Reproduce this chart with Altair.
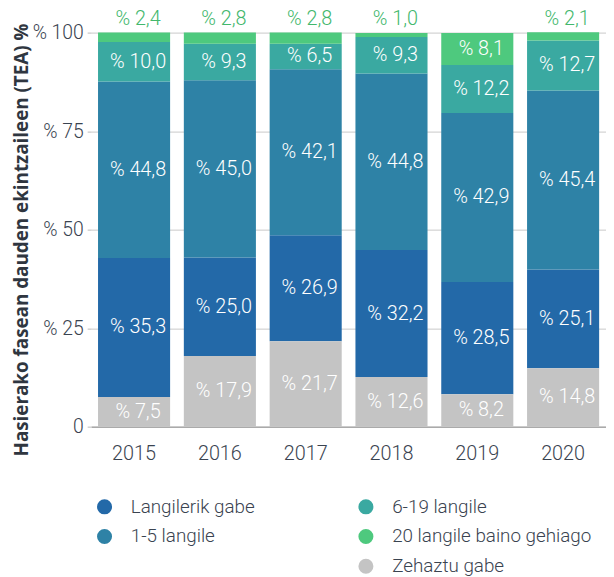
import altair as alt
import pandas as pd

years = ["2015", "2016", "2017", "2018", "2019", "2020"]
groups = ["Zehaztu gabe", "Langilerik gabe", "1-5 langile", "6-19 langile", "20 langile baino gehiago"]
zehaztu = [7.5, 17.9, 21.7, 12.6, 8.2, 14.8]
langilerik = [35.3, 25.0, 26.9, 32.2, 28.5, 25.1]
l1_5 = [44.8, 45.0, 42.1, 44.8, 42.9, 45.4]
l6_19 = [10.0, 9.3, 6.5, 9.3, 12.2, 12.7]
l20 = [2.4, 2.8, 2.8, 1.0, 8.1, 2.1]
series = [zehaztu, langilerik, l1_5, l6_19, l20]

rows = []
for gi, (g, vals) in enumerate(zip(groups, series)):
    for y, v in zip(years, vals):
        rows.append({"year": y, "group": g, "value": v, "ord": gi})
df = pd.DataFrame(rows)

FONT = "Roboto"
TXT = "#3a4350"

x_enc = alt.X("year:N", title=None, scale=alt.Scale(paddingInner=0.16, paddingOuter=0.08),
              axis=alt.Axis(labelFontSize=20, labelColor=TXT, labelFontWeight=300, labelAngle=0,
                            ticks=False, domainColor="#aaaaaa", domainWidth=1.5, labelPadding=17))
y_scale = alt.Scale(domain=[0, 100])
y_axis = alt.Axis(values=[0, 25, 50, 75, 100],
                  labelExpr="datum.value == 0 ? '0' : '% ' + datum.value",
                  labelFontSize=19.5, labelColor=TXT, labelFontWeight=300, labelPadding=4,
                  tickSize=4, tickColor="#bbbbbb", domain=False, gridColor="#c8c8c8",
                  title="Hasierako fasean dauden ekintzaileen (TEA) %", titleFontSize=19,
                  titleFont="Open Sans",
                  titleFontWeight="bold", titleColor="#2f3640", titleX=-70, titleY=209,
                  titleAngle=270, titleAlign="center", titleBaseline="middle")

leg_common = dict(orient="none", title=None, symbolType="circle", symbolSize=230,
                  labelFontSize=19, labelColor=TXT, labelFont=FONT, labelFontWeight=300,
                  labelOffset=17, rowPadding=10, padding=0, symbolStrokeWidth=0, labelLimit=400)

g1 = ["Langilerik gabe", "1-5 langile"]
g2 = ["6-19 langile", "20 langile baino gehiago", "Zehaztu gabe"]

bars1 = alt.Chart().mark_bar().encode(
    x=x_enc,
    y=alt.Y("y0:Q", scale=y_scale, axis=y_axis),
    y2="y1:Q",
    fill=alt.Fill("group:N", scale=alt.Scale(domain=g1, range=["#2369a8", "#2e82a6"]),
                  legend=alt.Legend(legendX=4, legendY=469.5, **leg_common)),
).transform_filter(alt.FieldOneOfPredicate(field="group", oneOf=g1))

bars2 = alt.Chart().mark_bar().encode(
    x=x_enc,
    y=alt.Y("y0:Q", scale=y_scale, axis=y_axis),
    y2="y1:Q",
    color=alt.Color("group:N", scale=alt.Scale(domain=g2, range=["#3aa9a1", "#4ec97e", "#c4c4c4"]),
                    legend=alt.Legend(legendX=268, legendY=469.5, **leg_common)),
).transform_filter(alt.FieldOneOfPredicate(field="group", oneOf=g2))

text_in = alt.Chart().mark_text(color="white", fontSize=20, fontWeight=300, font=FONT,
                                baseline="middle", dx=4).encode(
    x=x_enc,
    y=alt.Y("mid:Q", scale=y_scale),
    text="label:N",
).transform_filter("!(datum.group == '20 langile baino gehiago' && datum.value < 5)")

text_top = alt.Chart().mark_text(color="#42b76c", fontSize=20, fontWeight=300, font=FONT,
                                 baseline="alphabetic", dx=4).encode(
    x=x_enc,
    y=alt.value(-8),
    text="label:N",
).transform_filter("datum.group == '20 langile baino gehiago' && datum.value < 5")

chart = alt.layer(bars1, bars2, text_in, text_top, data=df).transform_calculate(
    label="'% ' + replace(format(datum.value, '.1f'), '.', ',')"
).transform_stack(
    stack="value", groupby=["year"], as_=["y0", "y1"], sort=[alt.SortField("ord", order="ascending")]
).transform_calculate(
    mid="(datum.y0 + datum.y1) / 2"
).resolve_scale(
    fill="independent", color="independent"
).properties(
    width=520, height=398,
    autosize=alt.AutoSizeParams(type="none"),
    padding={"left": 84, "top": 22, "right": 0, "bottom": 149},
).configure(font=FONT).configure_view(stroke=None)

chart.save("out.html", embed_options={"renderer": "svg", "actions": False})
